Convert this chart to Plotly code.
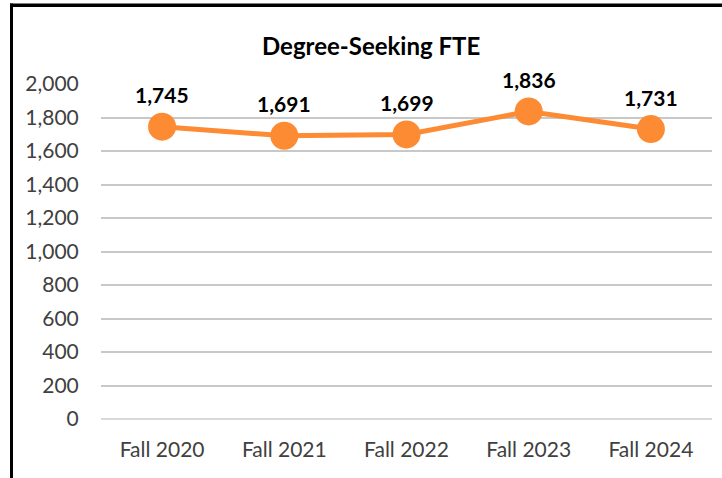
import plotly.graph_objects as go

categories = ["Fall 2020", "Fall 2021", "Fall 2022", "Fall 2023", "Fall 2024"]
fte_values = [1745, 1691, 1699, 1836, 1731]
y_ticks = [0, 200, 400, 600, 800, 1000, 1200, 1400, 1600, 1800, 2000]

W, H = 722, 478
L, R, T, B = 101, 10, 84, 59
pw = W - L - R
ph = H - T - B

def px_x(x):
    return (x - L) / pw

def px_y(y):
    return (H - B - y) / ph

LINE_COLOR = "#FD8B34"
FONT = "Lato"

fig = go.Figure()
fig.add_trace(go.Scatter(
    x=categories, y=fte_values, mode="lines+markers",
    line=dict(color=LINE_COLOR, width=5),
    marker=dict(color=LINE_COLOR, size=28),
    hoverinfo="x+y", showlegend=False,
))

annotations = []
for c, v in zip(categories, fte_values):
    annotations.append(dict(
        x=c, y=v, xref="x", yref="y", text=f"{v:,}", showarrow=False,
        yshift=32, font=dict(family=FONT, size=21, color="#000000", weight="bold"),
    ))
annotations.append(dict(
    x=px_x(371), y=px_y(46), xref="paper", yref="paper",
    text="Degree-Seeking FTE", showarrow=False, xanchor="center", yanchor="middle",
    font=dict(family=FONT, size=24, color="#000000", weight="bold"),
))

shapes = [
    dict(type="rect", xref="paper", yref="paper", layer="above",
         x0=px_x(10), x1=px_x(730), y0=px_y(3.5), y1=px_y(7),
         fillcolor="#000000", line=dict(width=0)),
    dict(type="rect", xref="paper", yref="paper", layer="above",
         x0=px_x(10), x1=px_x(13), y0=px_y(3.5), y1=px_y(485),
         fillcolor="#000000", line=dict(width=0)),
]

fig.update_layout(
    width=W, height=H,
    margin=dict(l=L, r=R, t=T, b=B, pad=0),
    paper_bgcolor="#FFFFFF", plot_bgcolor="#FFFFFF",
    font=dict(family=FONT, size=21, color="#404040"),
    annotations=annotations, shapes=shapes,
    xaxis=dict(
        type="category", showgrid=False, showline=False, zeroline=False,
        ticks="outside", ticklen=12, tickcolor="rgba(0,0,0,0)",
        tickfont=dict(family=FONT, size=21, color="#404040"),
        range=[-0.5, 4.5],
    ),
    yaxis=dict(
        range=[0, 2000], tickvals=y_ticks, tickformat=",",
        showgrid=True, gridcolor="#C8C8C8", gridwidth=2,
        zeroline=True, zerolinecolor="#D9D9D9", zerolinewidth=2,
        showline=False,
        ticks="outside", ticklen=17, tickcolor="rgba(0,0,0,0)",
        tickfont=dict(family=FONT, size=21, color="#404040"),
    ),
)

fig.write_html(
    "out.html",
    config={"displayModeBar": False},
    post_script=(
        "document.body.style.margin='0';"
        "var d=document.getElementById('{plot_id}');"
        "d.style.position='fixed';d.style.left='0px';d.style.top='0px';"
    ),
)
